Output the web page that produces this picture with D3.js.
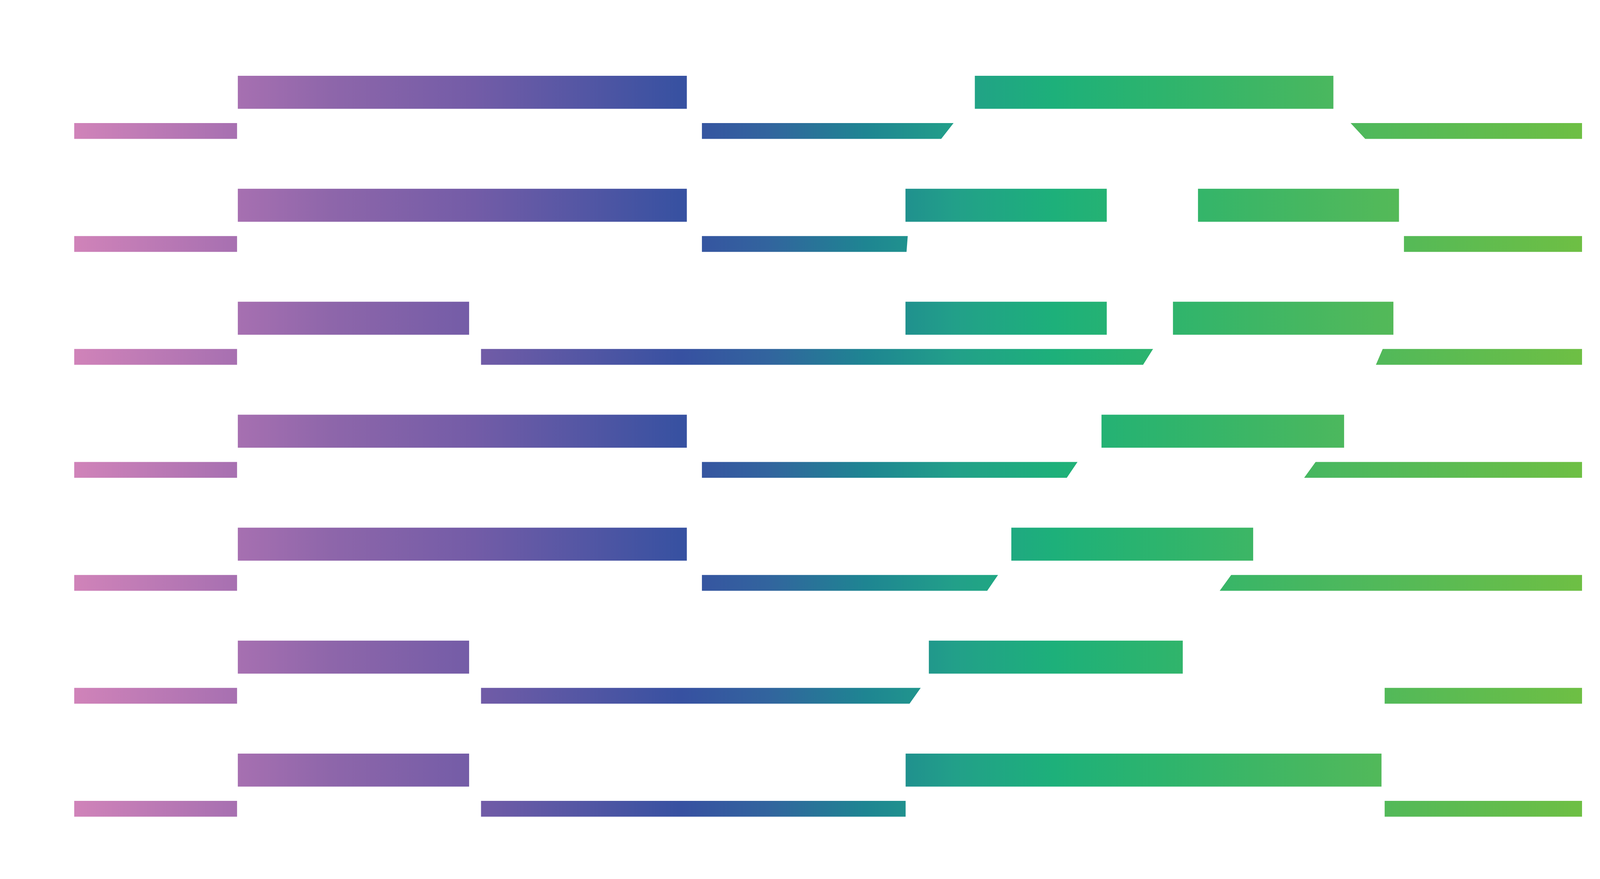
<!DOCTYPE html>
<html lang="en">
<head>
    <meta charset="UTF-8">
    <script src="https://d3js.org/d3.v7.min.js"></script>
    <title>Bars</title>
    <style>
        body { margin: 0; background: #fff; }
        svg { display: block; }
    </style>
</head>
<body>
    <svg id="s1" width="4275" height="2250"></svg>
    <script>
        // rows, top to bottom
        const rows = ["r1", "r2", "r3", "r4", "r5", "r6", "r7"];

        // thick upper bars per row: [start, end] on a 0-100 scale
        const upperBars = [
            [[10.85, 40.63], [59.73, 83.51]],
            [[10.85, 40.63], [55.13, 68.48], [74.53, 87.86]],
            [[10.85, 26.19], [55.13, 68.48], [72.87, 87.49]],
            [[10.85, 40.63], [68.13, 84.22]],
            [[10.85, 40.63], [62.15, 78.19]],
            [[10.85, 26.19], [56.68, 73.52]],
            [[10.85, 26.19], [55.14, 86.70]]
        ];

        // thin lower bars per row: [start top, start bottom, end top, end bottom]
        const lowerBars = [
            [[0, 0, 10.8, 10.8], [41.63, 41.63, 58.32, 57.50], [84.65, 85.62, 100, 100]],
            [[0, 0, 10.8, 10.8], [41.63, 41.63, 55.28, 55.20], [88.19, 88.19, 100, 100]],
            [[0, 0, 10.8, 10.8], [26.98, 26.98, 71.55, 70.89], [86.78, 86.33, 100, 100]],
            [[0, 0, 10.8, 10.8], [41.63, 41.63, 66.54, 65.83], [82.33, 81.57, 100, 100]],
            [[0, 0, 10.8, 10.8], [41.63, 41.63, 61.27, 60.55], [76.73, 75.97, 100, 100]],
            [[0, 0, 10.8, 10.8], [26.98, 26.98, 56.14, 55.40], [86.91, 86.91, 100, 100]],
            [[0, 0, 10.8, 10.8], [26.98, 26.98, 55.14, 55.14], [86.91, 86.91, 100, 100]]
        ];

        // colour ramp along the x scale
        const stopOffsets = [0, 10.7, 17, 26.5, 40.3, 46, 52.5, 58.5, 65, 72, 84.5, 100];
        const stopColors = ["#d083b9", "#a770b1", "#8e66aa", "#735ca7", "#3751a1", "#32649e",
                            "#1e8592", "#22a089", "#1db07a", "#2db46d", "#4db85d", "#6ebf44"];

        const svg = d3.select("svg#s1");
        const width = +svg.attr("width");
        const height = +svg.attr("height");
        const margin = {top: 194, right: 225, bottom: 184, left: 190};

        const x = d3.scaleLinear().domain([0, 100]).range([margin.left, width - margin.right]);
        const y = d3.scalePoint().domain(rows).range([margin.top, height - margin.bottom - 137]);

        const thickH = 84.5;
        const thinGap = 121;
        const thinH = 40.5;

        const grad = svg.append("defs").append("linearGradient")
            .attr("id", "ramp")
            .attr("gradientUnits", "userSpaceOnUse")
            .attr("x1", x(0)).attr("x2", x(100))
            .attr("y1", 0).attr("y2", 0);
        grad.selectAll("stop").data(stopOffsets)
            .join("stop")
            .attr("offset", d => d + "%")
            .attr("stop-color", (d, i) => stopColors[i]);

        const upper = rows.flatMap((r, i) => upperBars[i].map(b => ({row: r, b})));
        const lower = rows.flatMap((r, i) => lowerBars[i].map(b => ({row: r, b})));

        let chart = svg.append("g").attr("id", "bars");

        chart.selectAll("rect.upper").data(upper)
            .join("rect")
            .attr("class", "upper")
            .attr("x", d => x(d.b[0]))
            .attr("width", d => x(d.b[1]) - x(d.b[0]))
            .attr("y", d => y(d.row))
            .attr("height", thickH)
            .style("fill", "url(#ramp)");

        chart.selectAll("path.lower").data(lower)
            .join("path")
            .attr("class", "lower")
            .attr("d", d => {
                const top = y(d.row) + thinGap;
                const bot = top + thinH;
                return "M" + x(d.b[0]) + "," + top +
                       "L" + x(d.b[2]) + "," + top +
                       "L" + x(d.b[3]) + "," + bot +
                       "L" + x(d.b[1]) + "," + bot + "Z";
            })
            .style("fill", "url(#ramp)");
    </script>
</body>
</html>
